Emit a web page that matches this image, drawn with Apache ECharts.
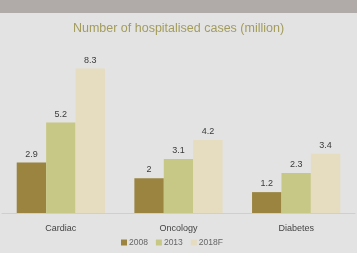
<!DOCTYPE html>
<html>
<head>
<meta charset="utf-8">
<script src="https://cdn.jsdelivr.net/npm/echarts@6/dist/echarts.min.js"></script>
<style>
  html, body { margin: 0; padding: 0; background: #e3e3e3; }
  #chart { width: 357px; height: 253px; }
</style>
</head>
<body>
<div id="chart"></div>
<script>
const categories = ["Cardiac", "Oncology", "Diabetes"];
const years = ["2008", "2013", "2018F"];
const cases2008 = [2.9, 2, 1.2];
const cases2013 = [5.2, 3.1, 2.3];
const cases2018F = [8.3, 4.2, 3.4];
const colors = ["#9a8440", "#c8c886", "#e6dcc0"];

const chart = echarts.init(document.getElementById("chart"));

const barLabel = {
  show: true,
  position: "top",
  distance: 4,
  color: "#3a3a3a",
  fontSize: 9,
  fontFamily: "Liberation Sans"
};

chart.setOption({
  backgroundColor: "#e3e3e3",
  animation: false,
  graphic: [{
    type: "rect",
    shape: { x: 0, y: 0, width: 357, height: 13 },
    style: { fill: "#b0aba8" }
  }],
  title: {
    text: "Number of hospitalised cases (million)",
    left: "center",
    top: 17,
    textStyle: { color: "#a39c5c", fontSize: 12.5, fontWeight: "normal", fontFamily: "Liberation Sans" }
  },
  legend: {
    data: years,
    bottom: 1,
    left: 116,
    itemWidth: 6,
    itemHeight: 6,
    itemGap: 8,
    icon: "rect",
    textStyle: { color: "#666", fontSize: 8.5, fontFamily: "Liberation Sans", padding: [0, 0, 0, -3] }
  },
  grid: { left: 2, right: 2, top: 39, bottom: 40, containLabel: false },
  xAxis: {
    type: "category",
    data: categories,
    axisLine: { lineStyle: { color: "#cfcfcf" } },
    axisTick: { show: false },
    axisLabel: { color: "#444", fontSize: 9, margin: 11, fontFamily: "Liberation Sans" }
  },
  yAxis: {
    type: "value",
    min: 0,
    max: 10,
    show: false,
    splitLine: { show: false }
  },
  series: [
    { name: years[0], type: "bar", data: cases2008, itemStyle: { color: colors[0] }, label: barLabel, barGap: "0%", barCategoryGap: "25%" },
    { name: years[1], type: "bar", data: cases2013, itemStyle: { color: colors[1] }, label: barLabel },
    { name: years[2], type: "bar", data: cases2018F, itemStyle: { color: colors[2] }, label: barLabel }
  ]
});
</script>
</body>
</html>
